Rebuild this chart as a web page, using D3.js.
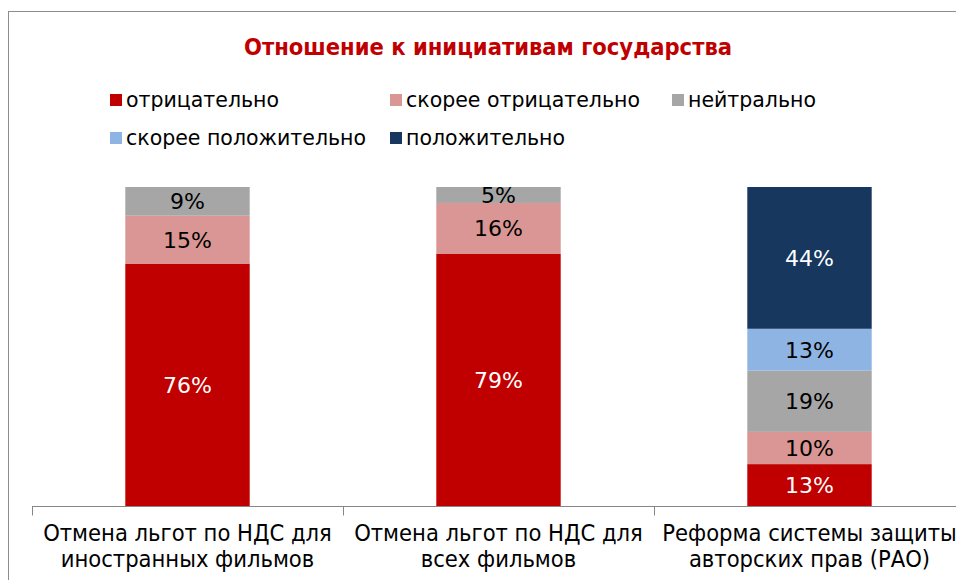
<!DOCTYPE html>
<html>
  <head>
    <meta charset="UTF-8" />
    <title>Отношение к инициативам государства</title>
    <script src="https://cdn.jsdelivr.net/npm/d3@7"></script>
    <style>
      body { margin: 0; background: #fff; }
      svg { display: block; }
    </style>
  </head>
  <body>
    <svg></svg>
    <script>
      // data
      const categories = [
        ['Отмена льгот по НДС для', 'иностранных фильмов'],
        ['Отмена льгот по НДС для', 'всех фильмов'],
        ['Реформа системы защиты', 'авторских прав (РАО)']
      ];
      const series = ['отрицательно', 'скорее отрицательно', 'нейтрально', 'скорее положительно', 'положительно'];
      const negative = [76, 79, 13];
      const ratherNegative = [15, 16, 10];
      const neutral = [9, 5, 19];
      const ratherPositive = [0, 0, 13];
      const positive = [0, 0, 44];
      const colors = ['#C00000', '#D99694', '#A6A6A6', '#8EB4E3', '#17375E'];
      const labelColors = ['#fff', '#000', '#000', '#000', '#fff'];

      const width = 956;
      const height = 580;
      const margin = { top: 187, bottom: 74, left: 32, right: -9 };

      const svg = d3.select('svg').attr('width', width).attr('height', height);

      // chart border
      svg.append('rect')
        .attr('x', 8.5).attr('y', 11.5)
        .attr('width', width + 10).attr('height', height + 10)
        .attr('fill', 'none').attr('stroke', '#8c8c8c');

      // title
      svg.append('text')
        .attr('x', 488).attr('y', 55)
        .attr('text-anchor', 'middle')
        .attr('font-family', 'DejaVu Sans Condensed, DejaVu Sans')
        .attr('font-weight', 'bold')
        .attr('font-size', 23.5)
        .attr('fill', '#C00000')
        .text('Отношение к инициативам государства');

      // table for stack
      const valuesBySeries = [negative, ratherNegative, neutral, ratherPositive, positive];
      const rows = categories.map((c, i) => {
        const r = { i };
        series.forEach((s, k) => (r[s] = valuesBySeries[k][i]));
        return r;
      });
      const stacked = d3.stack().keys(series).offset(d3.stackOffsetExpand)(rows);

      const x = d3.scaleBand()
        .domain(d3.range(categories.length))
        .range([margin.left, width - margin.right])
        .paddingInner(0).paddingOuter(0);
      const y = d3.scaleLinear().domain([0, 1]).range([height - margin.bottom, margin.top]);
      const barW = x.bandwidth() * 0.4;

      const g = svg.append('g');
      stacked.forEach((layer, k) => {
        const lg = g.append('g');
        lg.selectAll('rect')
          .data(layer.filter((d) => d[1] - d[0] > 0))
          .join('rect')
          .attr('x', (d) => x(d.data.i) + (x.bandwidth() - barW) / 2)
          .attr('width', barW)
          .attr('y', (d) => y(d[1]))
          .attr('height', (d) => y(d[0]) - y(d[1]))
          .attr('fill', colors[k]);
        lg.selectAll('text')
          .data(layer.filter((d) => d[1] - d[0] > 0))
          .join('text')
          .attr('x', (d) => x(d.data.i) + x.bandwidth() / 2)
          .attr('y', (d) => (y(d[0]) + y(d[1])) / 2)
          .attr('dy', '0.36em')
          .attr('text-anchor', 'middle')
          .attr('font-family', 'DejaVu Sans')
          .attr('font-size', 22)
          .attr('fill', labelColors[k])
          .text((d) => d.data[series[k]] + '%');
      });

      // axis
      const axisY = height - margin.bottom + 0.5;
      const ax = svg.append('g').attr('stroke', '#868686');
      ax.append('line')
        .attr('x1', margin.left).attr('x2', width)
        .attr('y1', axisY).attr('y2', axisY);
      ax.selectAll('line.tick')
        .data(d3.range(categories.length + 1))
        .join('line')
        .attr('class', 'tick')
        .attr('x1', (d) => Math.round(margin.left + d * x.bandwidth()) + 0.5)
        .attr('x2', (d) => Math.round(margin.left + d * x.bandwidth()) + 0.5)
        .attr('y1', axisY).attr('y2', axisY + 9);

      const cl = svg.append('g')
        .attr('font-family', 'DejaVu Sans Condensed, DejaVu Sans')
        .attr('font-size', 23.5)
        .attr('fill', '#000')
        .attr('text-anchor', 'middle');
      categories.forEach((lines, i) => {
        lines.forEach((t, j) => {
          cl.append('text')
            .attr('x', x(i) + x.bandwidth() / 2)
            .attr('y', 541 + j * 26)
            .text(t);
        });
      });

      // legend
      const legendPos = [
        [110, 100], [390, 100], [672, 100],
        [110, 138], [390, 138]
      ];
      const leg = svg.append('g')
        .attr('font-family', 'DejaVu Sans')
        .attr('font-size', 20.5);
      series.forEach((s, k) => {
        const [lx, ly] = legendPos[k];
        leg.append('rect')
          .attr('x', lx).attr('y', ly - 6)
          .attr('width', 12).attr('height', 12)
          .attr('fill', colors[k]);
        leg.append('text')
          .attr('x', lx + 16).attr('y', ly)
          .attr('dy', '0.35em')
          .attr('fill', '#000')
          .text(s);
      });
    </script>
  </body>
</html>
